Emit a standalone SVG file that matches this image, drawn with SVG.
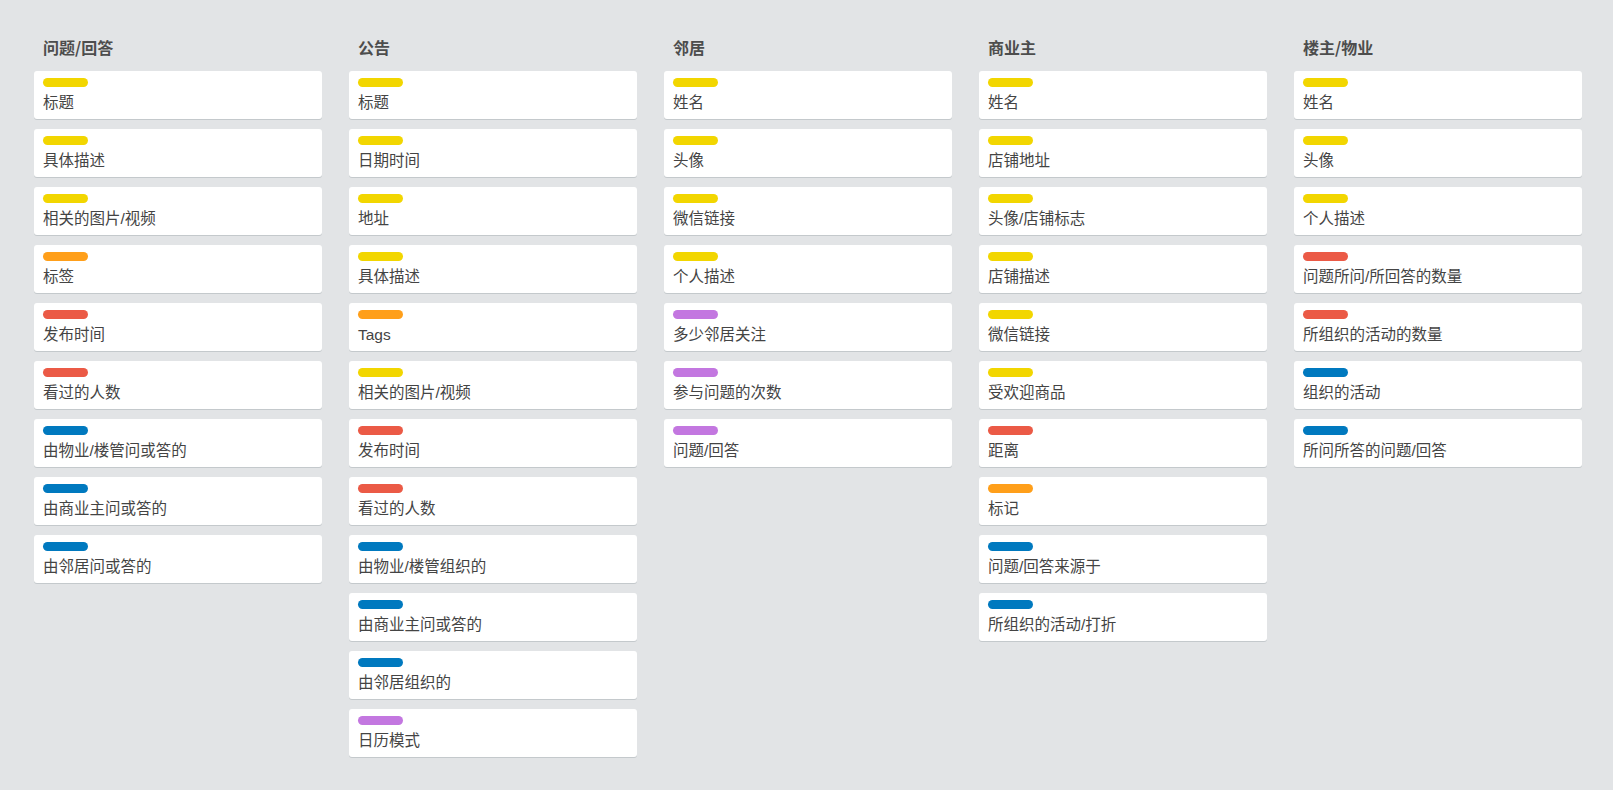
<svg xmlns="http://www.w3.org/2000/svg" width="1613" height="790" viewBox="0 0 1613 790">
<style>
.bg{fill:#e2e4e6}
.card{fill:#ffffff}
.sh{fill:#c4c9cc}
.hd{font-family:"Noto Sans CJK SC","Liberation Sans",sans-serif;font-size:16px;font-weight:bold;fill:#4d4d4d}
.tx{font-family:"Liberation Sans","Noto Sans CJK SC",sans-serif;font-size:15.5px;fill:#444444}
.Y{fill:#f2d600}.O{fill:#ff9f1a}.R{fill:#eb5a46}.B{fill:#0079bf}.P{fill:#c377e0}
</style>
<defs>
<g id="cardbase">
<rect class="sh" x="0" y="1" width="288" height="48" rx="3"/>
<rect class="card" x="0" y="0" width="288" height="48" rx="3"/>
</g>
</defs>
<rect class="bg" x="0" y="0" width="1613" height="790"/>

<g id="list1" transform="translate(34,0)">
<text class="hd" x="9" y="54">问题/回答</text>
<g id="l1c1" transform="translate(0,71)"><use href="#cardbase"/><rect class="Y" x="9" y="7" width="45" height="9" rx="4.5"/><text class="tx" x="9" y="37">标题</text></g>
<g id="l1c2" transform="translate(0,129)"><use href="#cardbase"/><rect class="Y" x="9" y="7" width="45" height="9" rx="4.5"/><text class="tx" x="9" y="37">具体描述</text></g>
<g id="l1c3" transform="translate(0,187)"><use href="#cardbase"/><rect class="Y" x="9" y="7" width="45" height="9" rx="4.5"/><text class="tx" x="9" y="37">相关的图片/视频</text></g>
<g id="l1c4" transform="translate(0,245)"><use href="#cardbase"/><rect class="O" x="9" y="7" width="45" height="9" rx="4.5"/><text class="tx" x="9" y="37">标签</text></g>
<g id="l1c5" transform="translate(0,303)"><use href="#cardbase"/><rect class="R" x="9" y="7" width="45" height="9" rx="4.5"/><text class="tx" x="9" y="37">发布时间</text></g>
<g id="l1c6" transform="translate(0,361)"><use href="#cardbase"/><rect class="R" x="9" y="7" width="45" height="9" rx="4.5"/><text class="tx" x="9" y="37">看过的人数</text></g>
<g id="l1c7" transform="translate(0,419)"><use href="#cardbase"/><rect class="B" x="9" y="7" width="45" height="9" rx="4.5"/><text class="tx" x="9" y="37">由物业/楼管问或答的</text></g>
<g id="l1c8" transform="translate(0,477)"><use href="#cardbase"/><rect class="B" x="9" y="7" width="45" height="9" rx="4.5"/><text class="tx" x="9" y="37">由商业主问或答的</text></g>
<g id="l1c9" transform="translate(0,535)"><use href="#cardbase"/><rect class="B" x="9" y="7" width="45" height="9" rx="4.5"/><text class="tx" x="9" y="37">由邻居问或答的</text></g>
</g>

<g id="list2" transform="translate(349,0)">
<text class="hd" x="9" y="54">公告</text>
<g id="l2c1" transform="translate(0,71)"><use href="#cardbase"/><rect class="Y" x="9" y="7" width="45" height="9" rx="4.5"/><text class="tx" x="9" y="37">标题</text></g>
<g id="l2c2" transform="translate(0,129)"><use href="#cardbase"/><rect class="Y" x="9" y="7" width="45" height="9" rx="4.5"/><text class="tx" x="9" y="37">日期时间</text></g>
<g id="l2c3" transform="translate(0,187)"><use href="#cardbase"/><rect class="Y" x="9" y="7" width="45" height="9" rx="4.5"/><text class="tx" x="9" y="37">地址</text></g>
<g id="l2c4" transform="translate(0,245)"><use href="#cardbase"/><rect class="Y" x="9" y="7" width="45" height="9" rx="4.5"/><text class="tx" x="9" y="37">具体描述</text></g>
<g id="l2c5" transform="translate(0,303)"><use href="#cardbase"/><rect class="O" x="9" y="7" width="45" height="9" rx="4.5"/><text class="tx" x="9" y="37">Tags</text></g>
<g id="l2c6" transform="translate(0,361)"><use href="#cardbase"/><rect class="Y" x="9" y="7" width="45" height="9" rx="4.5"/><text class="tx" x="9" y="37">相关的图片/视频</text></g>
<g id="l2c7" transform="translate(0,419)"><use href="#cardbase"/><rect class="R" x="9" y="7" width="45" height="9" rx="4.5"/><text class="tx" x="9" y="37">发布时间</text></g>
<g id="l2c8" transform="translate(0,477)"><use href="#cardbase"/><rect class="R" x="9" y="7" width="45" height="9" rx="4.5"/><text class="tx" x="9" y="37">看过的人数</text></g>
<g id="l2c9" transform="translate(0,535)"><use href="#cardbase"/><rect class="B" x="9" y="7" width="45" height="9" rx="4.5"/><text class="tx" x="9" y="37">由物业/楼管组织的</text></g>
<g id="l2c10" transform="translate(0,593)"><use href="#cardbase"/><rect class="B" x="9" y="7" width="45" height="9" rx="4.5"/><text class="tx" x="9" y="37">由商业主问或答的</text></g>
<g id="l2c11" transform="translate(0,651)"><use href="#cardbase"/><rect class="B" x="9" y="7" width="45" height="9" rx="4.5"/><text class="tx" x="9" y="37">由邻居组织的</text></g>
<g id="l2c12" transform="translate(0,709)"><use href="#cardbase"/><rect class="P" x="9" y="7" width="45" height="9" rx="4.5"/><text class="tx" x="9" y="37">日历模式</text></g>
</g>

<g id="list3" transform="translate(664,0)">
<text class="hd" x="9" y="54">邻居</text>
<g id="l3c1" transform="translate(0,71)"><use href="#cardbase"/><rect class="Y" x="9" y="7" width="45" height="9" rx="4.5"/><text class="tx" x="9" y="37">姓名</text></g>
<g id="l3c2" transform="translate(0,129)"><use href="#cardbase"/><rect class="Y" x="9" y="7" width="45" height="9" rx="4.5"/><text class="tx" x="9" y="37">头像</text></g>
<g id="l3c3" transform="translate(0,187)"><use href="#cardbase"/><rect class="Y" x="9" y="7" width="45" height="9" rx="4.5"/><text class="tx" x="9" y="37">微信链接</text></g>
<g id="l3c4" transform="translate(0,245)"><use href="#cardbase"/><rect class="Y" x="9" y="7" width="45" height="9" rx="4.5"/><text class="tx" x="9" y="37">个人描述</text></g>
<g id="l3c5" transform="translate(0,303)"><use href="#cardbase"/><rect class="P" x="9" y="7" width="45" height="9" rx="4.5"/><text class="tx" x="9" y="37">多少邻居关注</text></g>
<g id="l3c6" transform="translate(0,361)"><use href="#cardbase"/><rect class="P" x="9" y="7" width="45" height="9" rx="4.5"/><text class="tx" x="9" y="37">参与问题的次数</text></g>
<g id="l3c7" transform="translate(0,419)"><use href="#cardbase"/><rect class="P" x="9" y="7" width="45" height="9" rx="4.5"/><text class="tx" x="9" y="37">问题/回答</text></g>
</g>

<g id="list4" transform="translate(979,0)">
<text class="hd" x="9" y="54">商业主</text>
<g id="l4c1" transform="translate(0,71)"><use href="#cardbase"/><rect class="Y" x="9" y="7" width="45" height="9" rx="4.5"/><text class="tx" x="9" y="37">姓名</text></g>
<g id="l4c2" transform="translate(0,129)"><use href="#cardbase"/><rect class="Y" x="9" y="7" width="45" height="9" rx="4.5"/><text class="tx" x="9" y="37">店铺地址</text></g>
<g id="l4c3" transform="translate(0,187)"><use href="#cardbase"/><rect class="Y" x="9" y="7" width="45" height="9" rx="4.5"/><text class="tx" x="9" y="37">头像/店铺标志</text></g>
<g id="l4c4" transform="translate(0,245)"><use href="#cardbase"/><rect class="Y" x="9" y="7" width="45" height="9" rx="4.5"/><text class="tx" x="9" y="37">店铺描述</text></g>
<g id="l4c5" transform="translate(0,303)"><use href="#cardbase"/><rect class="Y" x="9" y="7" width="45" height="9" rx="4.5"/><text class="tx" x="9" y="37">微信链接</text></g>
<g id="l4c6" transform="translate(0,361)"><use href="#cardbase"/><rect class="Y" x="9" y="7" width="45" height="9" rx="4.5"/><text class="tx" x="9" y="37">受欢迎商品</text></g>
<g id="l4c7" transform="translate(0,419)"><use href="#cardbase"/><rect class="R" x="9" y="7" width="45" height="9" rx="4.5"/><text class="tx" x="9" y="37">距离</text></g>
<g id="l4c8" transform="translate(0,477)"><use href="#cardbase"/><rect class="O" x="9" y="7" width="45" height="9" rx="4.5"/><text class="tx" x="9" y="37">标记</text></g>
<g id="l4c9" transform="translate(0,535)"><use href="#cardbase"/><rect class="B" x="9" y="7" width="45" height="9" rx="4.5"/><text class="tx" x="9" y="37">问题/回答来源于</text></g>
<g id="l4c10" transform="translate(0,593)"><use href="#cardbase"/><rect class="B" x="9" y="7" width="45" height="9" rx="4.5"/><text class="tx" x="9" y="37">所组织的活动/打折</text></g>
</g>

<g id="list5" transform="translate(1294,0)">
<text class="hd" x="9" y="54">楼主/物业</text>
<g id="l5c1" transform="translate(0,71)"><use href="#cardbase"/><rect class="Y" x="9" y="7" width="45" height="9" rx="4.5"/><text class="tx" x="9" y="37">姓名</text></g>
<g id="l5c2" transform="translate(0,129)"><use href="#cardbase"/><rect class="Y" x="9" y="7" width="45" height="9" rx="4.5"/><text class="tx" x="9" y="37">头像</text></g>
<g id="l5c3" transform="translate(0,187)"><use href="#cardbase"/><rect class="Y" x="9" y="7" width="45" height="9" rx="4.5"/><text class="tx" x="9" y="37">个人描述</text></g>
<g id="l5c4" transform="translate(0,245)"><use href="#cardbase"/><rect class="R" x="9" y="7" width="45" height="9" rx="4.5"/><text class="tx" x="9" y="37">问题所问/所回答的数量</text></g>
<g id="l5c5" transform="translate(0,303)"><use href="#cardbase"/><rect class="R" x="9" y="7" width="45" height="9" rx="4.5"/><text class="tx" x="9" y="37">所组织的活动的数量</text></g>
<g id="l5c6" transform="translate(0,361)"><use href="#cardbase"/><rect class="B" x="9" y="7" width="45" height="9" rx="4.5"/><text class="tx" x="9" y="37">组织的活动</text></g>
<g id="l5c7" transform="translate(0,419)"><use href="#cardbase"/><rect class="B" x="9" y="7" width="45" height="9" rx="4.5"/><text class="tx" x="9" y="37">所问所答的问题/回答</text></g>
</g>
</svg>
